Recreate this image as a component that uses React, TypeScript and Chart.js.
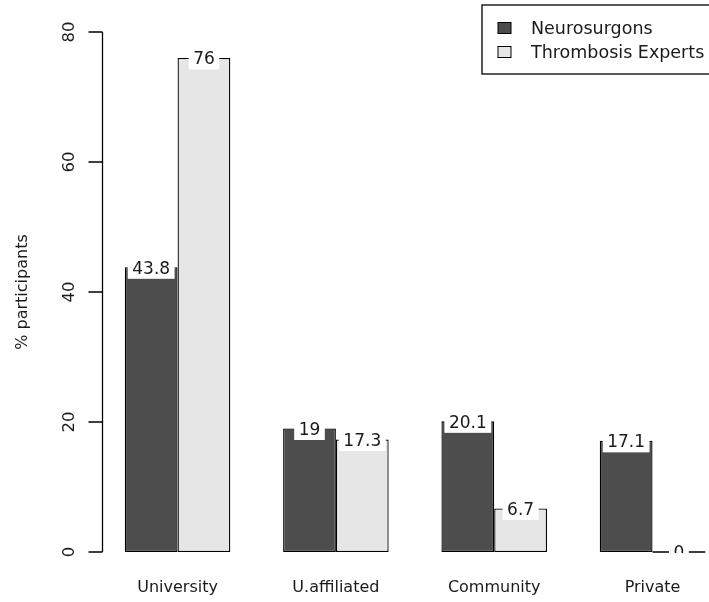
import React, { useEffect, useRef } from "react";
import { Chart, registerables } from "chart.js";

Chart.register(...registerables);

const categories = ["University", "U.affiliated", "Community", "Private"];
const seriesNames = ["Neurosurgons", "Thrombosis Experts"];
const neurosurgons = [43.8, 19, 20.1, 17.1];
const thrombosisExperts = [76, 17.3, 6.7, 0];
const yTicks = [0, 20, 40, 60, 80];
const yTitle = "% participants";
const seriesColors = ["#4D4D4D", "#E6E6E6"];

const FONT_FAMILY = '"DejaVu Sans", sans-serif';
const TEXT_COLOR = "#1a1a1a";

const decorPlugin = {
  id: "rDecor",
  afterDatasetsDraw(chart: any) {
    const ctx = chart.ctx;
    const area = chart.chartArea;
    ctx.save();
    ctx.beginPath();
    ctx.rect(0, 0, chart.width, area.bottom + 1);
    ctx.clip();
    chart.data.datasets.forEach((ds: any, di: number) => {
      const meta = chart.getDatasetMeta(di);
      meta.data.forEach((bar: any, i: number) => {
        const v = ds.data[i];
        const half = bar.width / 2;
        if (Math.abs(bar.base - bar.y) < 1) {
          ctx.strokeStyle = "#000";
          ctx.lineWidth = 1.3;
          ctx.beginPath();
          ctx.moveTo(bar.x - half, bar.base);
          ctx.lineTo(bar.x + half, bar.base);
          ctx.stroke();
        }
        const label = String(v);
        ctx.font = `17px ${FONT_FAMILY}`;
        const tw = ctx.measureText(label).width;
        const bw = tw + 9;
        const bh = 20;
        const cy = bar.y + 1.5;
        ctx.fillStyle = "#ffffff";
        ctx.fillRect(bar.x - bw / 2, cy - bh / 2, bw, bh);
        ctx.fillStyle = TEXT_COLOR;
        ctx.textAlign = "center";
        ctx.textBaseline = "middle";
        ctx.fillText(label, bar.x, cy + 0.5);
      });
    });
    ctx.restore();
  },
  afterDraw(chart: any) {
    const ctx = chart.ctx;
    const area = chart.chartArea;
    const ys = chart.scales.y;
    ctx.save();

    // y axis line and ticks (R style: from first to last tick, left of the first bar)
    const first = chart.getDatasetMeta(0).data[0];
    const axisX = Math.round(first.x - first.width / 2 - 0.44 * first.width) + 0.5;
    ctx.strokeStyle = "#000";
    ctx.lineWidth = 1.3;
    ctx.beginPath();
    ctx.moveTo(axisX, ys.getPixelForValue(yTicks[0]));
    ctx.lineTo(axisX, ys.getPixelForValue(yTicks[yTicks.length - 1]));
    yTicks.forEach((v) => {
      const y = ys.getPixelForValue(v);
      ctx.moveTo(axisX - 14, y);
      ctx.lineTo(axisX, y);
    });
    ctx.stroke();

    ctx.font = `16.5px ${FONT_FAMILY}`;
    ctx.fillStyle = TEXT_COLOR;
    ctx.textAlign = "center";
    ctx.textBaseline = "alphabetic";
    yTicks.forEach((v) => {
      const y = ys.getPixelForValue(v);
      ctx.save();
      ctx.translate(74, y);
      ctx.rotate(-Math.PI / 2);
      ctx.fillText(String(v), 0, 0);
      ctx.restore();
    });
    ctx.font = `16px ${FONT_FAMILY}`;
    ctx.save();
    ctx.translate(27, (area.top + area.bottom) / 2);
    ctx.rotate(-Math.PI / 2);
    ctx.fillText(yTitle, 0, 0);
    ctx.restore();

    // legend (R style, top-right)
    const lx = 482;
    const ly = 5;
    const lh = 69;
    ctx.fillStyle = "#ffffff";
    ctx.fillRect(lx, ly, chart.width - lx + 10, lh);
    ctx.strokeStyle = "#000";
    ctx.lineWidth = 1.3;
    ctx.strokeRect(lx, ly, chart.width - lx + 10, lh);
    const rowY = [28, 52];
    seriesNames.forEach((name, i) => {
      ctx.fillStyle = seriesColors[i];
      ctx.fillRect(498, rowY[i] - 5.5, 13, 11);
      ctx.strokeStyle = "#000";
      ctx.lineWidth = 1;
      ctx.strokeRect(498, rowY[i] - 5.5, 13, 11);
      ctx.fillStyle = TEXT_COLOR;
      ctx.textAlign = "left";
      ctx.textBaseline = "middle";
      ctx.font = `17.5px ${FONT_FAMILY}`;
      ctx.fillText(name, 531, rowY[i] + 1);
    });
    ctx.restore();
  },
};

export default function App() {
  const canvasRef = useRef<HTMLCanvasElement | null>(null);

  useEffect(() => {
    const canvas = canvasRef.current;
    if (!canvas) return;
    const makeDataset = (label: string, data: number[], color: string) => ({
      label,
      data,
      backgroundColor: color,
      borderColor: "#000",
      borderWidth: 1.3,
      borderSkipped: false,
      categoryPercentage: 2 / 3,
      barPercentage: 1,
    });
    const chart = new Chart(canvas, {
      type: "bar",
      data: {
        labels: categories,
        datasets: [
          makeDataset(seriesNames[0], neurosurgons, seriesColors[0]),
          makeDataset(seriesNames[1], thrombosisExperts, seriesColors[1]),
        ],
      },
      options: {
        responsive: false,
        animation: false,
        devicePixelRatio: 1,
        layout: { padding: { top: 32, right: 8.3, left: 0, bottom: 0 } },
        plugins: {
          legend: { display: false },
          tooltip: { enabled: false },
          title: { display: false },
        },
        scales: {
          x: {
            grid: { display: false },
            border: { display: false },
            ticks: {
              color: TEXT_COLOR,
              font: { family: FONT_FAMILY, size: 16 },
              padding: 18,
              maxRotation: 0,
              autoSkip: false,
            },
            afterFit: (s: any) => {
              s.height = 50;
            },
          },
          y: {
            min: 0,
            max: 80,
            afterBuildTicks: (s: any) => {
              s.ticks = yTicks.map((v) => ({ value: v }));
            },
            ticks: { display: false },
            grid: { display: false },
            border: { display: false },
            afterFit: (s: any) => {
              s.width = 98.4;
            },
          },
        },
      },
      plugins: [decorPlugin],
    } as any);
    return () => chart.destroy();
  }, []);

  return (
    <div
      style={{
        position: "fixed",
        left: 0,
        top: 0,
        width: 709,
        height: 602,
        overflow: "hidden",
        background: "#ffffff",
      }}
    >
      <canvas
        ref={canvasRef}
        width={740}
        height={602}
        style={{ display: "block", width: 740, height: 602 }}
      />
    </div>
  );
}
